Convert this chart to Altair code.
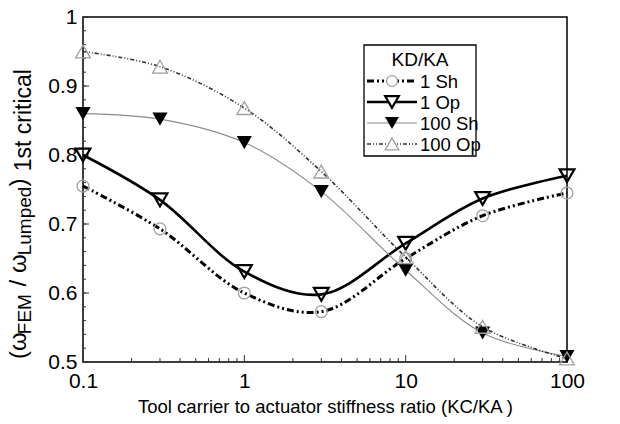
import altair as alt
import pandas as pd

# ---------------- data ----------------
kc_ka = [0.1, 0.3, 1, 3, 10, 30, 100]
series_names = ["1 Sh", "1 Op", "100 Sh", "100 Op"]
vals_1sh = [0.755, 0.693, 0.600, 0.573, 0.650, 0.712, 0.745]
vals_1op = [0.800, 0.735, 0.631, 0.598, 0.672, 0.737, 0.770]
vals_100sh = [0.860, 0.852, 0.818, 0.747, 0.633, 0.542, 0.508]
vals_100op = [0.950, 0.928, 0.868, 0.776, 0.652, 0.551, 0.505]
series_values = [vals_1sh, vals_1op, vals_100sh, vals_100op]

legend_title = "KD/KA"
x_title = "Tool carrier to actuator stiffness ratio (KC/KA )"
x_major = [0.1, 1, 10, 100]
x_minor = [m * d for d in [0.1, 1, 10] for m in range(2, 10)]
y_major = [0.5, 0.6, 0.7, 0.8, 0.9, 1.0]
y_minor = [round(0.5 + 0.02 * i, 2) for i in range(26)]
y_title_parts = [("(ω", "main"), ("FEM", "sub"), (" / ω", "main"),
                 ("Lumped", "sub"), (")", "main"), (" 1st critical", "tail")]

# ---------------- layout / style ----------------
W, H = 484, 345
PAD = {"left": 83, "top": 17, "right": 53, "bottom": 62}
FONT = "Liberation Sans"
TICK_FS = 21

styles = {
    "1 Sh": dict(color="black", width=3.0, dash=[7, 3, 2, 3, 2, 3],
                 shape="circle", filled=False, pcol="#a0a0a0", size=140, pw=1.3),
    "1 Op": dict(color="black", width=2.6, dash=None,
                 shape="triangle-down", filled=False, pcol="black", size=220, pw=2.2),
    "100 Sh": dict(color="#8c8c8c", width=1.1, dash=None,
                   shape="triangle-down", filled=True, pcol="black", size=230, pw=1),
    "100 Op": dict(color="#303030", width=1.6, dash=[4, 2, 1, 2, 1, 2],
                   shape="triangle-up", filled=False, pcol="#a0a0a0", size=220, pw=1.3),
}

xscale = alt.Scale(type="log", domain=[0.1, 100], nice=False)
yscale = alt.Scale(domain=[0.5, 1.0], nice=False, zero=False)

X_AX = alt.Axis(values=x_major, format="~g", ticks=False, domain=False, grid=False,
                labelFontSize=TICK_FS, labelFont=FONT, labelColor="black",
                labelPadding=8, labelFlush=False,
                title=x_title, titleFontSize=18.5, titleFont=FONT,
                titleFontWeight="normal", titleColor="black", titlePadding=6)
Y_AX = alt.Axis(values=y_major, format="~g", ticks=False, domain=False, grid=False,
                labelFontSize=TICK_FS, labelFont=FONT, labelColor="black",
                labelPadding=6, labelFlush=False, title=None)


def X(field):
    return alt.X(field, scale=xscale, axis=X_AX)


def Y(field):
    return alt.Y(field, scale=yscale, axis=Y_AX)


layers = []

# inward tick marks
def xticks(vals, length):
    return alt.Chart(pd.DataFrame({"v": vals})).mark_rule(color="#333333", strokeWidth=1).encode(
        x=X("v:Q"), y=alt.value(H), y2=alt.value(H - length))


def yticks(vals, length):
    return alt.Chart(pd.DataFrame({"v": vals})).mark_rule(color="#333333", strokeWidth=1).encode(
        y=Y("v:Q"), x=alt.value(0), x2=alt.value(length))


layers += [xticks(x_minor, 4), xticks(x_major, 7), yticks(y_minor, 3), yticks(y_major, 6)]

# series lines then markers
for name, vals in zip(series_names, series_values):
    s = styles[name]
    df = pd.DataFrame({"x": kc_ka, "y": vals})
    lkw = dict(color=s["color"], strokeWidth=s["width"], interpolate="catmull-rom")
    if s["dash"]:
        lkw["strokeDash"] = s["dash"]
    layers.append(alt.Chart(df).mark_line(**lkw).encode(x=X("x:Q"), y=Y("y:Q")))
for name, vals in zip(series_names, series_values):
    s = styles[name]
    df = pd.DataFrame({"x": kc_ka, "y": vals})
    pkw = dict(shape=s["shape"], size=s["size"], filled=s["filled"], strokeWidth=s["pw"], opacity=1)
    if s["filled"]:
        pkw["color"] = s["pcol"]
    else:
        pkw["stroke"] = s["pcol"]
        pkw["fill"] = "transparent"
    layers.append(alt.Chart(df).mark_point(**pkw).encode(x=X("x:Q"), y=Y("y:Q")))

# ---------------- legend (drawn) ----------------
one = pd.DataFrame({"a": [0]})
LX0, LX1, LY0, LY1 = 281, 393, 28, 139
layers.append(alt.Chart(one).mark_rect(fill="white", stroke="black", strokeWidth=1.3).encode(
    x=alt.value(LX0), x2=alt.value(LX1), y=alt.value(LY0), y2=alt.value(LY1)))
layers.append(alt.Chart(one).mark_text(text=legend_title, font=FONT, fontSize=19,
                                       align="center", baseline="middle", color="black").encode(
    x=alt.value((LX0 + LX1) / 2), y=alt.value(43)))
row0, drow = 64, 21
for i, name in enumerate(series_names):
    s = styles[name]
    yy = row0 + i * drow
    lkw = dict(color=s["color"], strokeWidth=s["width"])
    if s["dash"]:
        lkw["strokeDash"] = s["dash"]
    layers.append(alt.Chart(one).mark_rule(**lkw).encode(
        x=alt.value(LX0 + 3), x2=alt.value(LX0 + 53), y=alt.value(yy)))
    pkw = dict(shape=s["shape"], size=s["size"] * 0.85, filled=s["filled"], strokeWidth=s["pw"], opacity=1)
    if s["filled"]:
        pkw["color"] = s["pcol"]
    else:
        pkw["stroke"] = s["pcol"]
        pkw["fill"] = "white"
    layers.append(alt.Chart(one).mark_point(**pkw).encode(
        x=alt.value(LX0 + 28), y=alt.value(yy)))
    layers.append(alt.Chart(one).mark_text(text=name, font=FONT, fontSize=18.5, align="left",
                                           baseline="middle", color="black").encode(
        x=alt.value(LX0 + 56), y=alt.value(yy + 1)))

# ---------------- y title with subscripts ----------------
cw = {"(": .333, ")": .333, "ω": .70, "F": .611, "E": .667, "M": .833, "/": .278,
      "L": .556, "u": .556, "m": .833, "p": .556, "e": .556, "d": .556, "1": .556,
      "s": .5, "t": .278, "c": .5, "r": .333, "i": .222, "a": .556, "l": .222, " ": .32}
sizes = {"main": 24, "sub": 19, "tail": 23}
base_x = {"main": -57, "sub": -52, "tail": -52}
ypos = 342
for txt, kind in y_title_parts:
    fs = sizes[kind]
    lead = len(txt) - len(txt.lstrip(" "))
    ypos -= lead * cw[" "] * fs          # SVG collapses leading spaces: move instead
    core = txt.strip(" ")
    layers.append(alt.Chart(one).mark_text(text=core, font=FONT, fontSize=fs, angle=270,
                                           align="left", baseline="alphabetic", color="black").encode(
        x=alt.value(base_x[kind]), y=alt.value(ypos)))
    ypos -= sum(cw.get(c, .55) for c in core) * fs

chart = alt.layer(*layers).properties(
    width=W, height=H, padding=PAD, autosize=alt.AutoSizeParams(type="none"),
    background="white",
).configure_view(stroke="black", strokeWidth=1.5)

chart.save("out.html", embed_options={"renderer": "svg", "actions": False})
